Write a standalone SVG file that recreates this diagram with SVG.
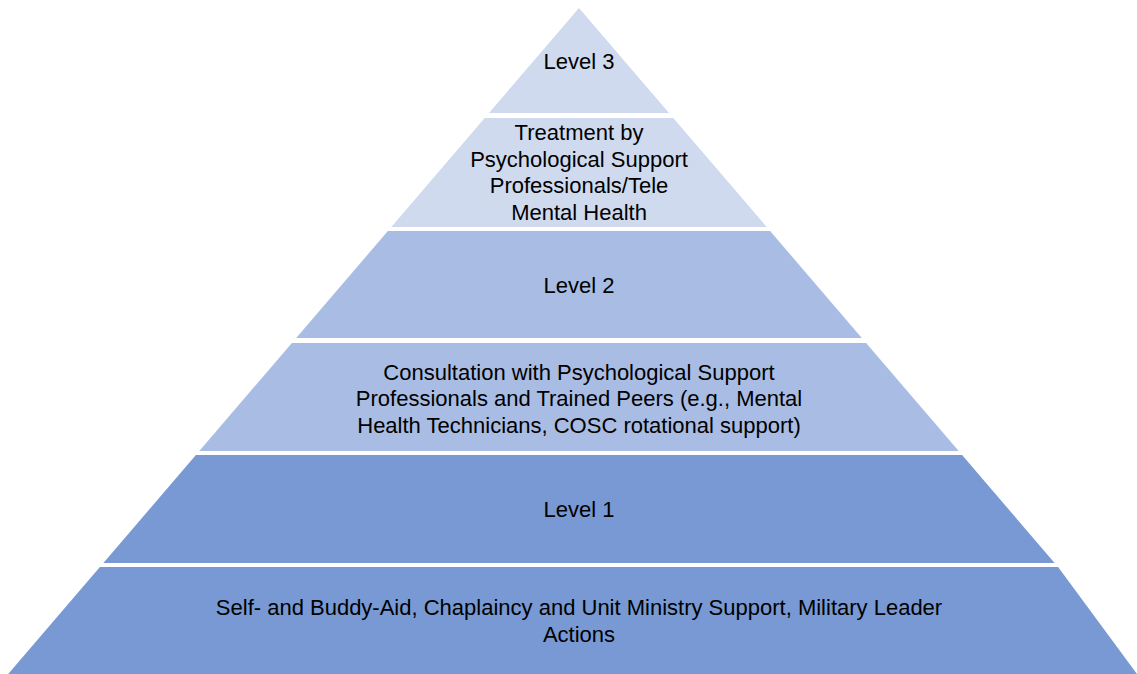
<svg xmlns="http://www.w3.org/2000/svg" width="1137" height="674" viewBox="0 0 1137 674">
  <style>
    .light { fill: #CFDAEE; }
    .mid { fill: #A9BCE3; }
    .dark { fill: #7899D4; }
    text { font-family: "Liberation Sans", Arial, sans-serif; font-size: 22px; fill: #000; text-anchor: middle; }
  </style>
  <rect width="1137" height="674" fill="#FFFFFF"/>

  <!-- Pyramid tiers, top to bottom -->
  <g id="tier-level3">
    <polygon class="light" points="579,8 669,113 489,113"/>
    <text x="579" y="69">Level 3</text>
  </g>
  <g id="tier-treatment">
    <polygon class="light" points="484.7,118 673.3,118 766.7,227 391.3,227"/>
    <text x="579" y="140">Treatment by</text>
    <text x="579" y="166.5">Psychological Support</text>
    <text x="579" y="193">Professionals/Tele</text>
    <text x="579" y="219.5">Mental Health</text>
  </g>
  <g id="tier-level2">
    <polygon class="mid" points="387.9,231 770.1,231 861.8,338 296.2,338"/>
    <text x="579" y="292.5">Level 2</text>
  </g>
  <g id="tier-consultation">
    <polygon class="mid" points="291.9,343 866.1,343 958.7,451 199.3,451"/>
    <text x="579" y="379.5">Consultation with Psychological Support</text>
    <text x="579" y="406">Professionals and Trained Peers (e.g., Mental</text>
    <text x="579" y="432.5">Health Technicians, COSC rotational support)</text>
  </g>
  <g id="tier-level1">
    <polygon class="dark" points="195.9,455 962.1,455 1054.6,563 103.4,563"/>
    <text x="579" y="516.5">Level 1</text>
  </g>
  <g id="tier-self-aid">
    <polygon class="dark" points="99.9,567 1058.1,567 1137,674 8.2,674"/>
    <text x="579" y="615">Self- and Buddy-Aid, Chaplaincy and Unit Ministry Support, Military Leader</text>
    <text x="579" y="641.5">Actions</text>
  </g>

  <!-- no connectors in this diagram -->
  <g id="connectors"/>
</svg>
